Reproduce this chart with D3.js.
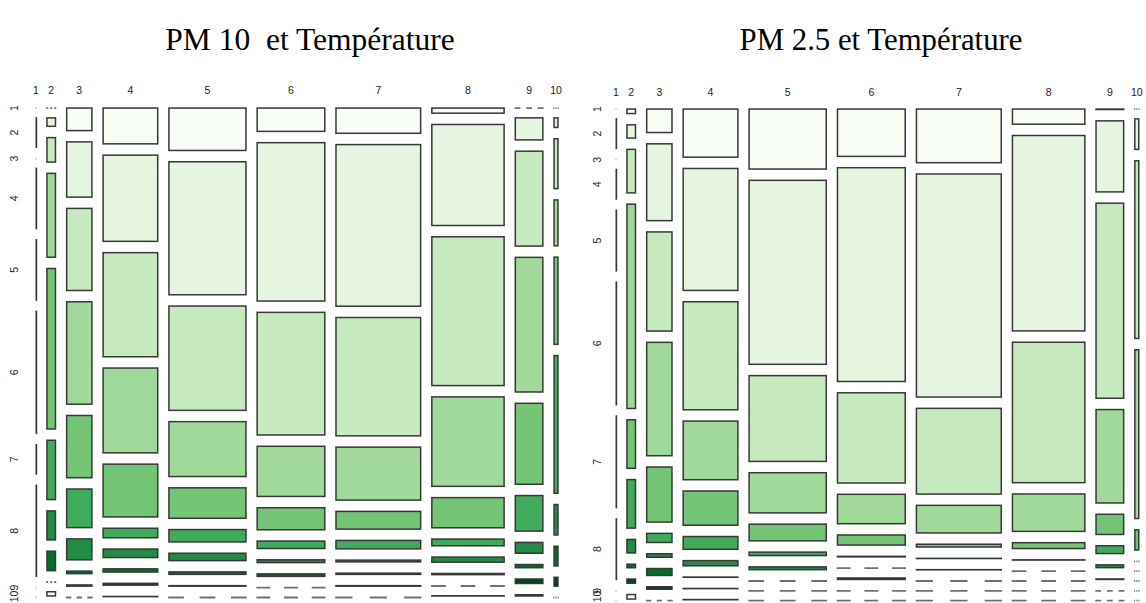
<!DOCTYPE html>
<html><head><meta charset="utf-8">
<script src="https://cdn.jsdelivr.net/npm/d3@7"></script>
<style>body{margin:0;background:#fff}svg{display:block}</style>
</head><body><svg id="c" width="1146" height="603"></svg>
<script>
// Temperature classes (columns) and PM classes (rows)
const tempClasses = ["1","2","3","4","5","6","7","8","9","10"];
const pmClasses   = ["1","2","3","4","5","6","7","8","9","10"];
// relative size of each temperature class (column widths)
const tempTotals = [13, 130, 347, 728, 1019, 897, 1118, 957, 377, 70];

// PM10 : distribution (relative) of PM10 classes within each temperature class
const pm10_t1  = [0, 1, 0, 2, 2, 4, 1, 3, 0, 0];
const pm10_t2  = [0, 10, 26, 85.6, 162.4, 61, 30.6, 21, 0, 5.7];
const pm10_t3  = [24, 56.6, 83.4, 103.7, 63.6, 40, 22.4, 4, 2.7, 0];
const pm10_t4  = [37.3, 87.7, 105.6, 86.3, 54.3, 11, 10, 4.7, 3.3, 1];
const pm10_t5  = [44.4, 136, 107, 57, 32.3, 14, 9, 4, 2, 0];
const pm10_t6  = [25, 161, 125, 52, 23.7, 9, 4.3, 4, 0, 0];
const pm10_t7  = [27, 164.7, 121, 55, 19.4, 10, 3.3, 2.7, 2, 0];
const pm10_t8  = [6.7, 103.7, 152, 92, 32, 8.3, 6.7, 2.7, 0, 1.7];
const pm10_t9  = [0, 23.7, 97, 137, 83, 37.3, 12.4, 4.7, 6, 2.7];
const pm10_t10 = [0, 11, 51, 47, 88, 138, 31.7, 21, 10.3, 0];

// PM2.5 : distribution (relative) of PM2.5 classes within each temperature class
const pm25_t1  = [0, 1, 0, 1, 2, 4, 3, 2, 0, 0];
const pm25_t2  = [6, 14.7, 45, 205.7, 50, 50, 15, 5, 5.7, 6];
const pm25_t3  = [25, 78.4, 100.7, 115, 56.6, 10.6, 5, 8.4, 4, 0];
const pm25_t4  = [50, 124.4, 110.4, 60.6, 36, 14.4, 6.7, 1.6, 1.3, 1];
const pm25_t5  = [62, 187, 88, 42, 18.3, 5, 4.3, 0, 0, 0];
const pm25_t6  = [49, 216, 92, 31, 11.6, 2, 0, 3, 0, 0];
const pm25_t7  = [55, 224, 87, 29, 4.3, 1.5, 1.5, 0, 0, 0];
const pm25_t8  = [16.7, 197.4, 142.3, 39, 7.4, 1.5, 0, 0, 0, 0];
const pm25_t9  = [2, 72.6, 196.7, 95, 21.7, 9.3, 4.3, 2, 0, 0];
const pm25_t10 = [0, 32, 179, 170, 21.7, 0, 0, 0, 0, 0];

const greens = ["#F7FCF5","#E5F5E0","#C7E9C0","#A1D99B","#74C476","#41AB5D","#238B45","#006D2C","#00441B"];

const pm10 = [pm10_t1,pm10_t2,pm10_t3,pm10_t4,pm10_t5,pm10_t6,pm10_t7,pm10_t8,pm10_t9,pm10_t10];
const pm25 = [pm25_t1,pm25_t2,pm25_t3,pm25_t4,pm25_t5,pm25_t6,pm25_t7,pm25_t8,pm25_t9,pm25_t10];

const svg = d3.select("#c");

function mosaic(cfg){
  const g = svg.append("g");
  const nC = tempClasses.length, nR = pmClasses.length;
  const total = d3.sum(tempTotals);
  const xs = d3.scaleLinear().domain([0, total])
      .range([0, (cfg.x1 - cfg.x0) - (nC - 1) * cfg.gx]);
  const colCum = d3.cumsum([0].concat(tempTotals));
  const sw = 1.5;
  const firstCenters = [];
  cfg.data.forEach((col, j) => {
    const cx = cfg.x0 + xs(colCum[j]) + j * cfg.gx;
    const cw = xs(tempTotals[j]);
    const ys = d3.scaleLinear().domain([0, d3.sum(col)])
        .range([0, (cfg.y1 - cfg.y0) - (nR - 1) * cfg.gy]);
    const cum = d3.cumsum([0].concat(col));
    col.forEach((v, i) => {
      const cy = cfg.y0 + ys(cum[i]) + i * cfg.gy;
      const ch = ys(v);
      if (v > 0) {
        g.append("rect")
          .attr("x", cx + sw/2).attr("y", cy + sw/2)
          .attr("width", Math.max(cw - sw, 0.2))
          .attr("height", Math.max(ch - sw, 0.2))
          .attr("fill", greens[i % greens.length])
          .attr("stroke", "#383838").attr("stroke-width", sw);
      } else {
        g.append("line")
          .attr("x1", cx).attr("x2", cx + cw)
          .attr("y1", cy + 0.8).attr("y2", cy + 0.8)
          .attr("stroke", "#707070").attr("stroke-width", 1.8)
          .attr("stroke-dasharray", `${cw*0.2},${cw*0.2}`);
      }
      if (j === 0) firstCenters.push(cy + (v > 0 ? ch/2 : 0.8));
    });
    g.append("text")
      .attr("x", cx + cw/2).attr("y", cfg.topLabelY)
      .attr("text-anchor", "middle").attr("dominant-baseline", "central")
      .attr("font-family", "Liberation Sans, Arial, sans-serif")
      .attr("font-size", 10.5).attr("fill", "#222")
      .text(tempClasses[j]);
  });
  firstCenters.forEach((yc, i) => {
    const y = Math.min(yc, 596.5);
    g.append("text")
      .attr("transform", `translate(${cfg.leftLabelX},${y}) rotate(-90)`)
      .attr("text-anchor", "middle").attr("dominant-baseline", "central")
      .attr("font-family", "Liberation Sans, Arial, sans-serif")
      .attr("font-size", 10.5).attr("fill", "#222")
      .text(pmClasses[i]);
  });
  svg.append("text")
    .attr("x", cfg.titleX).attr("y", cfg.titleY)
    .attr("text-anchor", "middle")
    .attr("font-family", "Liberation Serif, Times New Roman, serif")
    .attr("font-size", cfg.titleSize).attr("fill", "#000")
    .style("white-space", "pre")
    .text(cfg.title);
}

mosaic({data: pm10, x0: 35.5, x1: 558.7, y0: 107.3, y1: 596.7, gx: 9.7, gy: 9.8,
        topLabelY: 90, leftLabelX: 14, titleX: 310, titleY: 50, titleSize: 31.5,
        title: "PM 10  et Température"});
mosaic({data: pm25, x0: 615.5, x1: 1139.5, y0: 108.3, y1: 599.8, gx: 9.7, gy: 9.8,
        topLabelY: 91.7, leftLabelX: 597, titleX: 881, titleY: 50, titleSize: 30.8,
        title: "PM 2.5 et Température"});
</script></body></html>
